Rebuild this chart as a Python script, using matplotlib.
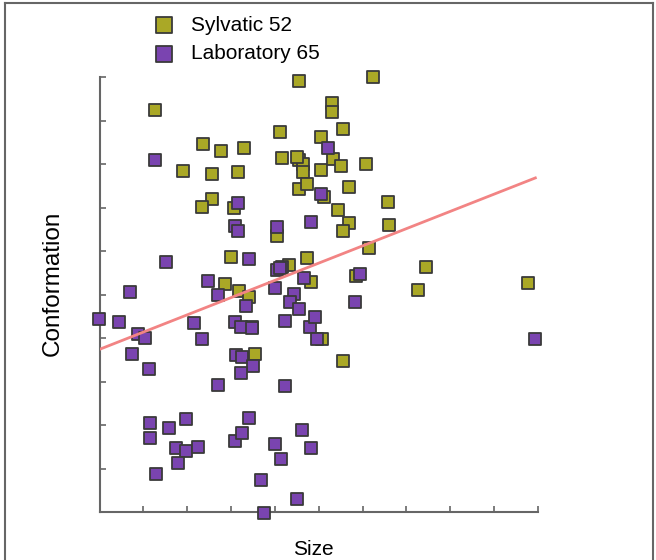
import numpy as np
import matplotlib
matplotlib.use('Agg')
import matplotlib.pyplot as plt
from matplotlib.lines import Line2D

plt.rcParams['font.family'] = ['Liberation Sans', 'DejaVu Sans']

# Sylvatic (olive) points: size vs conformation
sylv_x = [1.26, 4.54, 6.23, 5.30, 5.30, 5.55, 4.12, 5.06, 2.35, 2.77,
          3.29, 1.91, 2.56, 3.16, 4.17, 4.56, 4.63, 4.65, 5.04, 5.33,
          5.50, 6.08, 4.55, 4.73, 5.68, 5.11, 2.56, 2.34, 3.07, 5.43,
          6.59, 5.70, 5.56, 6.61, 6.15, 4.04, 2.99, 4.33, 4.74, 2.86,
          3.19, 3.41, 4.82, 5.84, 7.45, 7.26, 9.77, 5.08, 5.56, 3.54,
          4.51, 3.47]
sylv_y = [9.24, 9.91, 9.99, 9.41, 9.19, 8.80, 8.74, 8.62, 8.46, 8.31,
          8.36, 7.84, 7.76, 7.81, 8.13, 8.10, 8.00, 7.82, 7.87, 8.12,
          7.95, 8.01, 7.43, 7.54, 7.48, 7.25, 7.20, 7.02, 7.00, 6.94,
          7.13, 6.64, 6.47, 6.59, 6.07, 6.34, 5.87, 5.67, 5.85, 5.24,
          5.09, 4.94, 5.29, 5.42, 5.63, 5.10, 5.27, 3.98, 3.48, 3.64,
          8.15, 4.25]

# Laboratory (purple) points
lab_x = [1.26, 5.22, 3.16, 5.04, 4.82, 4.04, 3.09, 3.15, 1.51, 3.41,
         2.48, 2.71, 0.69, 3.33, 4.05, 4.17, 4.00, 4.43, 4.34, 4.56,
         4.66, 5.93, 5.83, -0.01, 0.45, 0.88, 1.03, 2.15, 2.33, 0.73,
         3.10, 3.23, 3.48, 4.23, 4.80, 4.92, 4.95, 3.12, 3.25, 3.51,
         1.13, 3.23, 2.71, 4.23, 9.94, 1.15, 1.15, 1.58, 1.98, 1.74,
         1.96, 2.25, 1.80, 1.29, 3.09, 3.24, 3.41, 4.00, 4.14, 4.61,
         4.82, 3.69, 4.51, 3.74, 4.12]
lab_y = [8.10, 8.36, 7.10, 7.32, 6.66, 6.55, 6.57, 6.45, 5.75, 5.82,
         5.30, 4.99, 5.05, 4.73, 5.57, 5.63, 5.15, 5.01, 4.83, 4.66,
         5.39, 5.48, 4.83, 4.44, 4.37, 4.09, 3.99, 4.35, 3.97, 3.63,
         4.37, 4.26, 4.23, 4.39, 4.26, 4.48, 3.98, 3.60, 3.57, 3.36,
         3.29, 3.20, 2.93, 2.89, 3.97, 2.04, 1.70, 1.93, 2.14, 1.46,
         1.40, 1.49, 1.13, 0.87, 1.63, 1.81, 2.15, 1.56, 1.23, 1.89,
         1.47, 0.73, 0.31, -0.02, 5.60]

# trend line ends
trend_x = [0.0, 9.94]
trend_y = [3.74, 7.68]

labels = ['Sylvatic 52', 'Laboratory 65']
olive = '#aaa826'
purple = '#7a44b0'
edge = '#3a3a3a'

fig = plt.figure(figsize=(6.56, 5.6), dpi=100)
ax = fig.add_axes([0.1518, 0.0857, 0.6683, 0.7768])

s1 = ax.scatter(sylv_x, sylv_y, s=66, marker='s', c=olive, edgecolors=edge,
                linewidths=1.3, clip_on=False, zorder=3, label=labels[0])
s2 = ax.scatter(lab_x, lab_y, s=66, marker='s', c=purple, edgecolors=edge,
                linewidths=1.3, clip_on=False, zorder=3, label=labels[1])
ax.plot(trend_x, trend_y, color='#f28484', lw=2, zorder=4)

ax.set_xlim(0, 10)
ax.set_ylim(0, 10)
ax.set_xticks(np.arange(0, 11))
ax.set_yticks(np.arange(0, 11))
ax.tick_params(direction='in', length=4, width=1.2, color='#666666',
               labelbottom=False, labelleft=False)
for side in ['top', 'right']:
    ax.spines[side].set_visible(False)
for side in ['left', 'bottom']:
    ax.spines[side].set_color('#666666')
    ax.spines[side].set_linewidth(1.5)

ax.set_xlabel('Size', fontsize=15, labelpad=20, x=0.487)
ax.set_ylabel('Conformation', fontsize=17.5, labelpad=26, y=0.525)

leg = fig.legend(handles=[s1, s2], labels=labels, loc='upper left',
                 bbox_to_anchor=(0.205, 1.005), frameon=False, fontsize=15,
                 markerscale=1.35, handletextpad=0.8, labelspacing=0.45,
                 handlelength=1.0)

# frame around the figure
fc = '#666666'
fig.add_artist(Line2D([5/656, 5/656], [0, 1 - 3/560], color=fc, lw=1.5))
fig.add_artist(Line2D([5/656, 653/656], [1 - 3/560, 1 - 3/560], color=fc, lw=1.5))
fig.add_artist(Line2D([653/656, 653/656], [0, 1 - 3/560], color=fc, lw=1.5))

fig.savefig('out.png', dpi=100)
